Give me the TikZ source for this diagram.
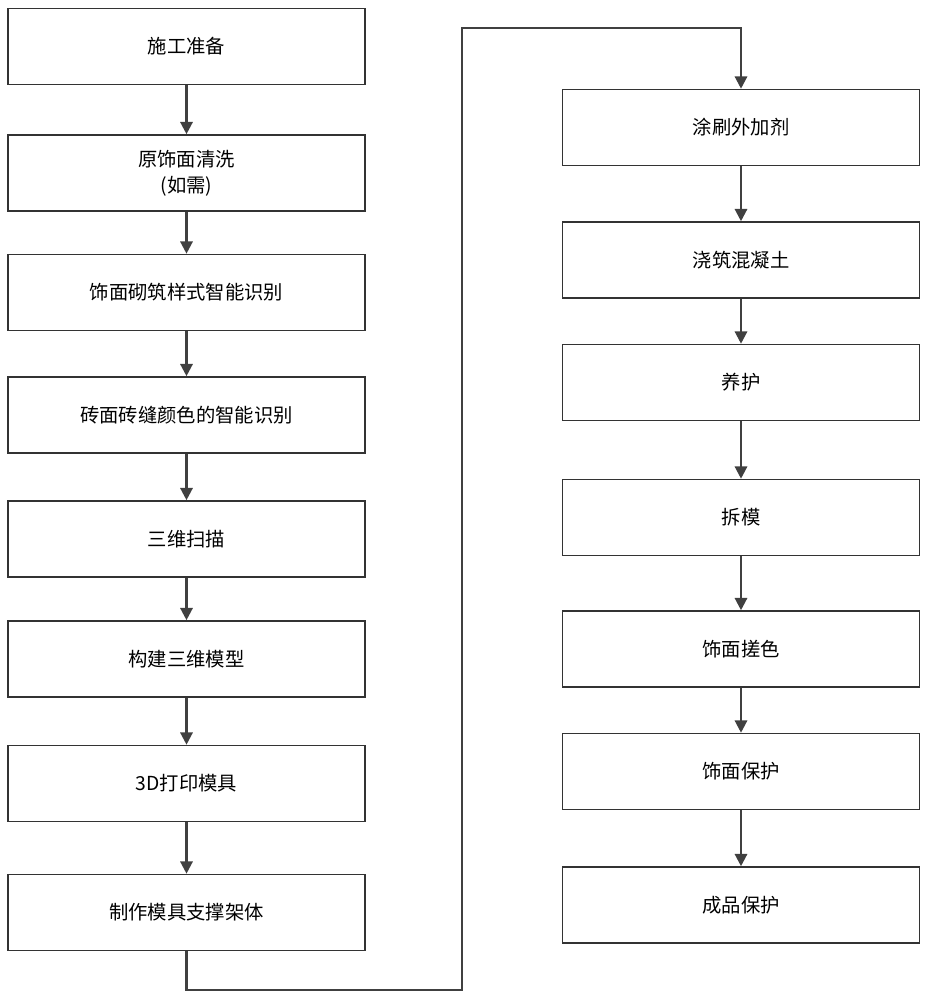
\documentclass[tikz,border=0pt]{standalone}
\usepackage{fontspec}
\setmainfont{Noto Sans CJK SC}
\usetikzlibrary{arrows.meta}
\tikzstyle{stepbox} = [rectangle, draw=black!80, line width=0.9pt, minimum width=7.14cm, minimum height=1.52cm, text centered, align=center, font=\fontsize{11}{15}\selectfont]
\tikzstyle{arrow} = [line width=1.3pt, draw=black!75, -{Triangle[length=7pt,width=7pt]}]
\begin{document}
\begin{tikzpicture}
            \useasboundingbox (0,0) rectangle (18.56,-20);
            % left column
            \node [stepbox] at (3.73,-0.93) (prep) {施工准备};
            \node [stepbox] at (3.73,-3.46) (clean) {原饰面清洗\\(如需)};
            \node [stepbox] at (3.73,-5.85) (style) {饰面砌筑样式智能识别};
            \node [stepbox] at (3.73,-8.30) (color) {砖面砖缝颜色的智能识别};
            \node [stepbox] at (3.73,-10.78) (scan) {三维扫描};
            \node [stepbox] at (3.73,-13.18) (model) {构建三维模型};
            \node [stepbox] at (3.73,-15.67) (print) {3D打印模具};
            \node [stepbox] at (3.73,-18.25) (frame) {制作模具支撑架体};
            % right column
            \node [stepbox] at (14.82,-2.55) (agent) {涂刷外加剂};
            \node [stepbox] at (14.82,-5.20) (pour) {浇筑混凝土};
            \node [stepbox] at (14.82,-7.65) (cure) {养护};
            \node [stepbox] at (14.82,-10.35) (strip) {拆模};
            \node [stepbox] at (14.82,-12.98) (tint) {饰面搓色};
            \node [stepbox] at (14.82,-15.43) (protect) {饰面保护};
            \node [stepbox] at (14.82,-18.10) (finish) {成品保护};
            \coordinate (low) at (9.24,-19.80);
            \coordinate (high) at (9.24,-0.56);

            \draw [arrow] (prep) -- (clean);
            \draw [arrow] (clean) -- (style);
            \draw [arrow] (style) -- (color);
            \draw [arrow] (color) -- (scan);
            \draw [arrow] (scan) -- (model);
            \draw [arrow] (model) -- (print);
            \draw [arrow] (print) -- (frame);
            \draw [arrow] (frame.south) |- (low) -- (high) -| (agent.north);
            \draw [arrow] (agent) -- (pour);
            \draw [arrow] (pour) -- (cure);
            \draw [arrow] (cure) -- (strip);
            \draw [arrow] (strip) -- (tint);
            \draw [arrow] (tint) -- (protect);
            \draw [arrow] (protect) -- (finish);
\end{tikzpicture}
\end{document}
